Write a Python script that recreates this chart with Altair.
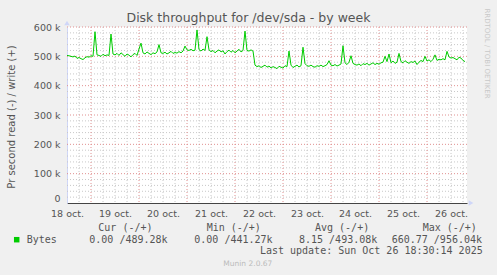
import altair as alt
import pandas as pd

# ---------------- data ----------------
hours = list(range(12, 212))  # hours since 18 oct 00:00
write_k = [
    503, 502, 500, 498, 501, 493, 496, 492, 489, 495, 499, 497, 502, 500,
    584, 505, 503, 500, 507, 502, 505, 503, 576, 508, 505, 510, 503, 512,
    506, 500, 508, 504, 498, 506, 510, 503, 525, 545, 512, 508, 515, 510,
    506, 512, 509, 515, 540, 512, 510, 514, 508, 512, 517, 510, 513, 511,
    516, 512, 518, 535, 522, 520, 524, 519, 521, 590, 523, 518, 525, 520,
    567, 522, 516, 520, 512, 518, 522, 515, 519, 508, 516, 521, 514, 520,
    512, 518, 524, 515, 520, 586, 520, 518, 522, 518, 470, 465, 468, 462,
    466, 470, 463, 467, 460, 465, 462, 458, 466, 463, 460, 468, 465, 518,
    470, 462, 466, 470, 464, 468, 531, 475, 468, 466, 470, 465, 463, 468,
    466, 470, 465, 468, 472, 485, 470, 468, 472, 467, 470, 474, 536, 478,
    472, 480, 502, 476, 472, 470, 474, 468, 475, 472, 476, 470, 474, 478,
    472, 476, 473, 478, 480, 500, 482, 508, 478, 484, 476, 480, 510, 482,
    478, 485, 480, 476, 482, 479, 484, 472, 480, 486, 482, 500, 484, 488,
    482, 490, 505, 486, 490, 488, 492, 488, 517, 498, 494, 496, 492, 488,
    497, 494, 486, 482,
]
day_label_hours = [12, 36, 60, 84, 108, 132, 156, 180, 204]
major_x = [24, 48, 72, 96, 120, 144, 168, 192]
minor_x = [h for h in range(18, 212, 6) if h % 24 != 0]
y_ticks = [0, 100000, 200000, 300000, 400000, 500000, 600000]
major_y = [100000, 200000, 300000, 400000, 500000, 600000]
minor_y = [v for v in range(20000, 600000, 20000) if v % 100000 != 0]

title_text = "Disk throughput for /dev/sda - by week"
y_title = "Pr second read (-) / write (+)"
side_text = "RRDTOOL / TOBI OETIKER"
legend_name = "Bytes"
legend_headers = ["Cur (-/+)", "Min (-/+)", "Avg (-/+)", "Max (-/+)"]
legend_values = ["0.00 /489.28k", "0.00 /441.27k", "8.15 /493.08k", "660.77 /956.04k"]
last_update = "Last update: Sun Oct 26 18:30:14 2025"
munin_version = "Munin 2.0.67"

# ---------------- chart ----------------
W, H = 400, 176
FONT = "DejaVu Sans"
MONO = "DejaVu Sans Mono"
TXT = "#555555"
GREEN = "#00CC00"

xs = alt.Scale(domain=[12, 212], nice=False, zero=False)
ys = alt.Scale(domain=[0, 600000], nice=False)

x_axis = alt.Axis(
    values=day_label_hours,
    labelExpr="floor(datum.value/24)+18 + ' oct.'",
    title=None,
    grid=False,
    ticks=False,
    domainColor="#444444",
    labelFont=FONT,
    labelFontSize=9.5,
    labelColor=TXT,
    labelPadding=5,
    labelFlush=False,
)
y_axis = alt.Axis(
    values=y_ticks,
    labelExpr="datum.value == 0 ? '0' : (datum.value/1000) + ' k'",
    title=None,
    grid=False,
    ticks=False,
    domainColor="#CFD6F8",
    labelFont=FONT,
    labelFontSize=9.5,
    labelColor=TXT,
    labelPadding=7,
    labelBaseline={"condition": {"test": "datum.value == 0", "value": "bottom"}, "value": "middle"},
)

line_df = pd.DataFrame({"h": hours, "v": [w * 1000 for w in write_k]})


def vrules(vals, color, dash):
    return alt.Chart(pd.DataFrame({"h": vals})).mark_rule(
        color=color, strokeDash=dash, strokeWidth=1
    ).encode(x=alt.X("h:Q", scale=xs, axis=x_axis))


def hrules(vals, color, dash):
    return alt.Chart(pd.DataFrame({"v": vals})).mark_rule(
        color=color, strokeDash=dash, strokeWidth=1
    ).encode(y=alt.Y("v:Q", scale=ys, axis=y_axis))


minor_col = "#c8c8c8"
major_col = "#e09090"

grid = [
    vrules(minor_x, minor_col, [1, 2]),
    hrules(minor_y, minor_col, [1, 2]),
    vrules(major_x, major_col, [1, 2]),
    hrules(major_y, major_col, [1, 2]),
]

line = alt.Chart(line_df).mark_line(color=GREEN, strokeWidth=1).encode(
    x=alt.X("h:Q", scale=xs, axis=x_axis),
    y=alt.Y("v:Q", scale=ys, axis=y_axis),
)

one = pd.DataFrame({"t": [""]})


def txt(s, x, y, size=10, font=FONT, color=TXT, align="left", angle=0, baseline="middle"):
    return alt.Chart(pd.DataFrame({"t": [s]})).mark_text(
        font=font, fontSize=size, color=color, align=align, angle=angle, baseline=baseline
    ).encode(text="t:N", x=alt.value(x), y=alt.value(y))


arrows = [
    alt.Chart(one).mark_point(shape="triangle-up", filled=True, color="#CFD6F8", size=30, opacity=1)
    .encode(x=alt.value(0), y=alt.value(-4)),
    alt.Chart(one).mark_point(shape="triangle-right", filled=True, color="#CFD6F8", size=30, opacity=1)
    .encode(x=alt.value(W + 4), y=alt.value(H)),
]

texts = [
    txt(title_text, 181.5, -9, size=12.5, align="center"),
    txt(y_title, -55, 90, size=10, align="center", angle=270),
    txt(side_text, 420, 26.5, size=7, color="#c8c8c8", align="center", angle=90),
    txt(legend_name, -40.3, 212.7, font=MONO),
    txt(last_update, 415.7, 224, font=MONO, align="right"),
    txt(munin_version, 156.3, 237.3, size=7.5, color="#bbbbbb"),
]
hdr_x = [31.3, 139.7, 248, 355.7]
val_x = [22.3, 127.3, 232, 324.7]
for s, x in zip(legend_headers, hdr_x):
    texts.append(txt(s, x, 200.7, font=MONO))
for s, x in zip(legend_values, val_x):
    texts.append(txt(s, x, 212.7, font=MONO))

swatch = alt.Chart(one).mark_square(color=GREEN, size=30, opacity=1).encode(
    x=alt.value(-50.3), y=alt.value(212.7)
)

chart = alt.layer(*grid, line, *arrows, swatch, *texts).properties(
    width=W,
    height=H,
    autosize=alt.AutoSizeParams(type="none"),
    padding={"left": 67, "top": 27, "right": 30, "bottom": 72},
    background="#F0F0F0",
).configure_view(fill="white", stroke=None)

chart.save("out.html", embed_options={"renderer": "svg", "actions": False})
